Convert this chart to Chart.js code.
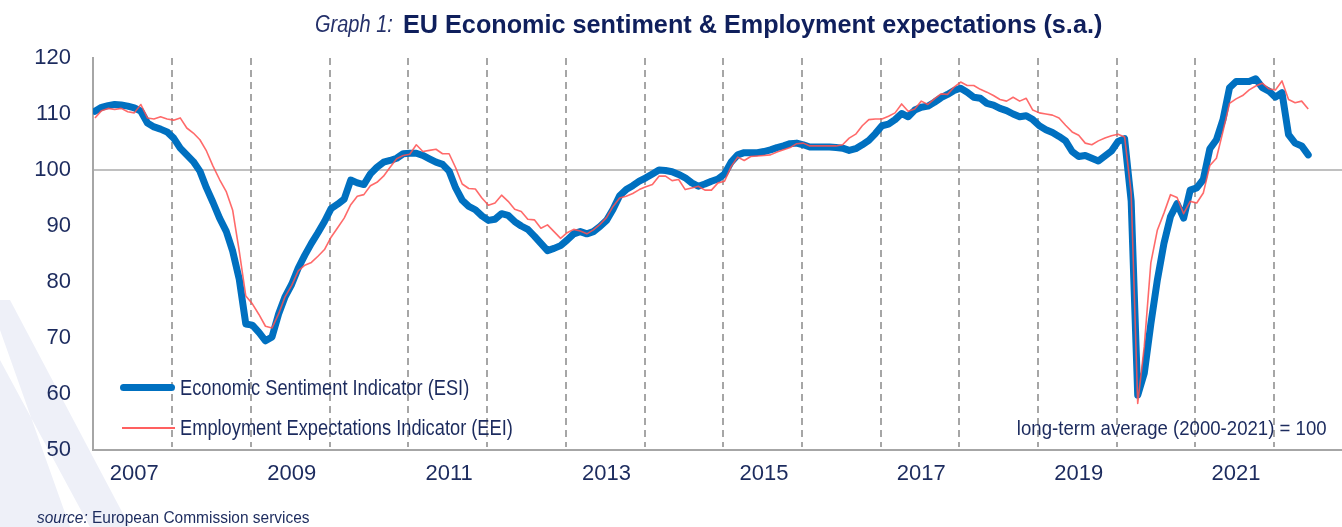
<!DOCTYPE html>
<html>
<head>
<meta charset="utf-8">
<script src="https://cdn.jsdelivr.net/npm/chart.js@4.4.1/dist/chart.umd.min.js"></script>
<style>
html, body { margin: 0; padding: 0; background: #fff; }
#wrap { position: relative; width: 1342px; height: 527px; overflow: hidden;
  font-family: 'Liberation Sans Narrow', 'Arial Narrow', 'Liberation Sans', Arial, sans-serif; color: #1c2b5e; }
#deco1 { position: absolute; left: 0; top: 0; width: 1342px; height: 527px;
  background: #eef0f8; clip-path: polygon(0 300px, 10px 300px, 130px 527px, 0 527px); }
#deco2 { position: absolute; left: 0; top: 0; width: 1342px; height: 527px;
  background: #fff; clip-path: polygon(0 330px, 0 360px, 90px 527px, 70px 527px); }
canvas { position: absolute; left: 0; top: 0; }
.t { position: absolute; top: 6px; white-space: nowrap; line-height: 36px; transform-origin: left center; }
.t1 { left: 315px; font-size: 23px; font-style: italic; color: #24306a; transform: scaleX(0.87); }
.t2 { left: 403px; font-size: 26px; font-weight: bold; color: #0f1f5c; transform: scaleX(0.97); }
.leg { position: absolute; left: 180px; font-size: 22px; line-height: 26px; white-space: nowrap;
  transform: scaleX(0.83); transform-origin: left center; }
.swatch { position: absolute; left: 120px; width: 55px; }
.note { position: absolute; right: 15px; top: 415px; font-size: 21px; line-height: 26px; white-space: nowrap;
  transform: scaleX(0.886); transform-origin: right center; }
.source { position: absolute; left: 37px; top: 507px; font-size: 17px; line-height: 22px; white-space: nowrap;
  transform: scaleX(0.91); transform-origin: left center; }
</style>
</head>
<body>
<div id="wrap">
  <div id="deco1"></div>
  <div id="deco2"></div>
  <canvas id="chart" width="1342" height="527"></canvas>
  <div class="t t1">Graph 1:</div>
  <div class="t t2">EU Economic sentiment &amp; Employment expectations (s.a.)</div>
  <div class="swatch" style="top:384px;height:7px;border-radius:4px;background:#0070c0;"></div>
  <div class="leg" style="top:375px;">Economic Sentiment Indicator (ESI)</div>
  <div class="swatch" style="top:427px;height:2px;left:122px;width:53px;background:#ff6060;"></div>
  <div class="leg" style="top:415px;">Employment Expectations Indicator (EEI)</div>
  <div class="note">long-term average (2000-2021) = 100</div>
  <div class="source"><i>source:</i> European Commission services</div>
</div>
<script>
// monthly values, Jan 2007 .. Jun 2022
const esi = [
  110.5, 111.2, 111.5, 111.7, 111.6, 111.4, 111.1, 110.5, 108.4, 107.7, 107.3, 106.8, // 2007
  105.7, 103.9, 102.7, 101.5, 99.8, 96.8, 94.2, 91.4, 89.1, 85.5, 80.5, 72.5,        // 2008
  72.3, 71.0, 69.5, 70.2, 74.3, 77.4, 79.6, 82.5, 84.8, 86.9, 88.8, 90.8,            // 2009
  93.1, 93.9, 94.8, 98.2, 97.7, 97.4, 99.3, 100.5, 101.4, 101.7, 102.1, 102.9,       // 2010
  103.0, 103.0, 102.6, 102.0, 101.4, 101.0, 99.8, 96.8, 94.6, 93.5, 92.9, 91.8,      // 2011
  91.0, 91.2, 92.2, 91.9, 90.8, 90.0, 89.4, 88.2, 86.9, 85.6, 86.0, 86.5,            // 2012
  87.5, 88.6, 89.0, 88.6, 89.0, 89.9, 91.0, 93.0, 95.4, 96.5, 97.2, 98.0,            // 2013
  98.6, 99.3, 100.0, 99.9, 99.7, 99.2, 98.6, 97.7, 97.1, 97.5, 98.0, 98.4,           // 2014
  99.3, 101.4, 102.7, 103.1, 103.1, 103.1, 103.3, 103.6, 104.0, 104.3, 104.7, 104.8, // 2015
  104.5, 104.1, 104.1, 104.1, 104.1, 104.0, 103.9, 103.5, 103.8, 104.5, 105.3, 106.5, // 2016
  107.9, 108.2, 109.0, 110.1, 109.5, 110.7, 111.2, 111.4, 112.1, 112.9, 113.5, 114.2, // 2017
  114.6, 113.9, 113.0, 112.8, 111.9, 111.6, 111.0, 110.6, 110.0, 109.5, 109.7, 109.0, // 2018
  107.9, 107.2, 106.7, 106.0, 105.2, 103.3, 102.4, 102.6, 102.1, 101.6, 102.5, 103.4, // 2019
  105.1, 105.6, 94.5, 59.8, 63.7, 72.5, 80.4, 86.9, 91.7, 94.0, 91.4, 96.4,          // 2020
  96.8, 98.3, 103.8, 105.4, 109.0, 114.7, 115.8, 115.8, 115.8, 116.3, 114.7, 114.1,  // 2021
  113.0, 113.8, 106.3, 104.8, 104.3, 102.7                                            // 2022
];
const eei = [
  109.3, 110.6, 111.0, 110.8, 111.0, 110.4, 110.2, 111.7, 109.3, 109.1, 109.5, 109.1, // 2007
  108.9, 109.3, 107.5, 106.6, 105.4, 103.4, 100.7, 98.3, 96.2, 92.8, 85.5, 77.5,      // 2008
  76.1, 74.2, 72.1, 71.8, 74.3, 77.4, 79.4, 82.0, 83.0, 83.5, 84.6, 85.8,             // 2009
  88.0, 89.7, 91.4, 93.8, 95.3, 95.6, 97.2, 97.8, 98.9, 100.5, 102.0, 102.6,          // 2010
  102.8, 104.5, 103.3, 103.5, 103.7, 102.9, 102.9, 100.4, 97.5, 96.7, 96.6, 95.0,     // 2011
  93.7, 94.1, 95.5, 94.4, 93.0, 92.6, 91.2, 91.1, 89.6, 90.2, 89.0, 87.8,             // 2012
  88.8, 89.4, 89.1, 88.6, 89.3, 90.3, 91.5, 93.5, 95.0, 95.3, 95.8, 96.5,             // 2013
  97.0, 97.4, 98.9, 98.9, 98.1, 98.3, 96.5, 96.8, 97.1, 96.4, 96.4, 97.7,             // 2014
  98.0, 100.6, 102.3, 101.7, 102.4, 102.5, 102.6, 102.7, 103.2, 103.6, 104.0, 104.7,  // 2015
  104.8, 104.3, 104.3, 104.3, 104.3, 104.3, 104.5, 105.7, 106.4, 107.9, 109.0, 109.1, // 2016
  109.1, 109.6, 110.2, 111.8, 110.5, 110.9, 112.3, 111.7, 112.7, 113.6, 113.5, 114.8, // 2017
  115.7, 115.1, 115.1, 114.4, 113.9, 113.3, 112.6, 112.3, 113.0, 112.3, 112.8, 110.7, // 2018
  110.2, 110.0, 109.8, 109.3, 108.0, 106.8, 106.2, 104.8, 104.5, 105.2, 105.7, 106.1, // 2019
  106.4, 105.9, 95.9, 58.3, 68.5, 83.4, 89.3, 92.3, 95.6, 95.1, 92.2, 94.4,           // 2020
  94.1, 95.9, 100.8, 102.1, 106.9, 111.9, 112.7, 113.3, 114.3, 115.0, 115.5, 114.5,   // 2021
  114.3, 115.9, 112.6, 112.0, 112.3, 110.9                                             // 2022
];
const yearLabels = ['2007', '2009', '2011', '2013', '2015', '2017', '2019', '2021'];
const yTicks = [50, 60, 70, 80, 90, 100, 110, 120];
const firstYear = 2007;

const textColor = '#1c2b5e';
const fontFamily = "'Liberation Sans Narrow', 'Arial Narrow', 'Liberation Sans', Arial, sans-serif";
const toPoints = arr => arr.map((v, i) => ({ x: i, y: v }));
// x position of mid-year label and of the year boundaries, in months since Jan 2007
const labelPos = y => (Number(y) - firstYear) * 12 + 6;
const boundaries = [];
for (let yr = firstYear + 1; yr <= 2022; yr++) boundaries.push((yr - firstYear) * 12 - 0.2);

const yearLines = {
  id: 'yearLines',
  beforeDatasetsDraw(chart) {
    const { ctx, chartArea, scales } = chart;
    ctx.save();
    ctx.strokeStyle = '#a6a6a6';
    ctx.lineWidth = 2;
    ctx.setLineDash([7, 5]);
    boundaries.forEach(v => {
      const x = Math.round(scales.x.getPixelForValue(v));
      ctx.beginPath();
      ctx.moveTo(x, chartArea.top);
      ctx.lineTo(x, chartArea.bottom - 3);
      ctx.stroke();
    });
    ctx.restore();
  }
};

new Chart(document.getElementById('chart'), {
  type: 'line',
  data: {
    datasets: [
      { label: 'Economic Sentiment Indicator (ESI)', data: toPoints(esi), borderColor: '#0070c0',
        borderWidth: 7, pointRadius: 0, borderJoinStyle: 'round', borderCapStyle: 'round', tension: 0, order: 2 },
      { label: 'Employment Expectations Indicator (EEI)', data: toPoints(eei), borderColor: 'rgba(255,80,80,0.85)',
        borderWidth: 1.6, pointRadius: 0, borderJoinStyle: 'round', tension: 0, order: 1 }
    ]
  },
  options: {
    responsive: false,
    animation: false,
    devicePixelRatio: 1,
    layout: { padding: { top: 58, right: 0, bottom: 0, left: 0 } },
    plugins: { legend: { display: false }, tooltip: { enabled: false }, title: { display: false } },
    scales: {
      x: {
        type: 'linear', min: -0.3, max: 190.15,
        afterBuildTicks: s => { s.ticks = yearLabels.map(y => ({ value: labelPos(y) })); },
        afterFit: s => { s.height = 77; },
        ticks: { autoSkip: false, maxRotation: 0, padding: 11, color: textColor,
          font: { family: fontFamily, size: 22 }, callback: (v, i) => yearLabels[i] },
        grid: { display: false, drawTicks: false },
        border: { display: true, color: '#a6a6a6', width: 2 }
      },
      y: {
        min: 50, max: 120,
        afterBuildTicks: s => { s.ticks = yTicks.map(v => ({ value: v })); },
        afterFit: s => { s.width = 93; },
        ticks: { padding: 22, color: textColor, font: { family: fontFamily, size: 22 } },
        grid: { drawTicks: false, lineWidth: 2,
          color: c => (c.tick && c.tick.value === 100 ? '#c0c0c0' : 'rgba(0,0,0,0)') },
        border: { display: true, color: '#a6a6a6', width: 2 }
      }
    }
  },
  plugins: [yearLines]
});
</script>
</body>
</html>
